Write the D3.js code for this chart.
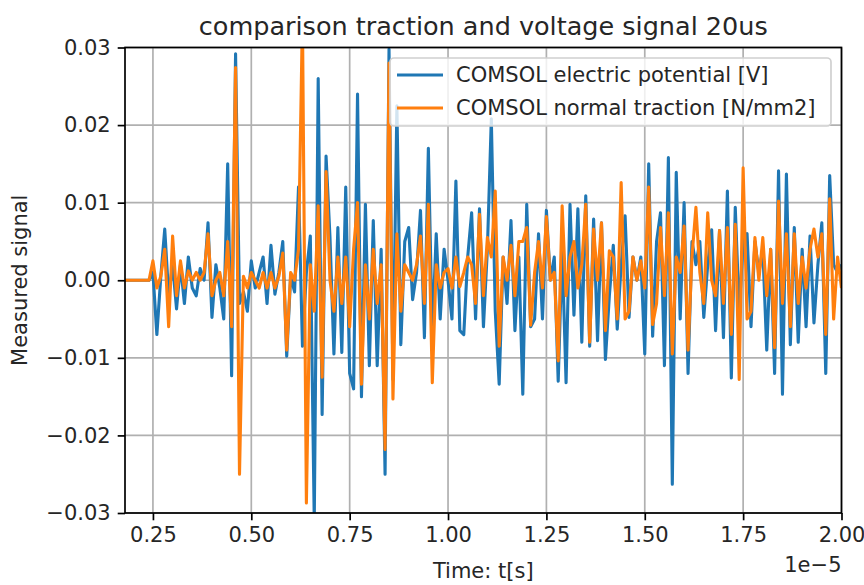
<!DOCTYPE html>
<html><head><meta charset="utf-8">
<script src="https://cdn.jsdelivr.net/npm/d3@7"></script>
<style>body{margin:0;background:#fff}svg{display:block}text{font-family:"DejaVu Sans",sans-serif;fill:#262626}</style>
</head><body><svg id="c" width="864" height="585"></svg>
<script>
// time in units of 1e-5 s; samples start at 0.25 with step 0.01
const sampleStart = 0.25, sampleStep = 0.01;
const leadTimes = [0.0, 0.24];
const leadValues = [0, 0];
const potential = [0.001,-0.007,0.0005,0.0066,-0.002,0.002,-0.0037,0.002,-0.003,0.003,-0.001,-0.002,0.0015,0.0,0.0074,-0.0048,0.002,-0.001,-0.005,0.015,-0.0123,0.0292,-0.003,-0.0015,-0.004,0.0025,-0.001,0.001,0.003,-0.003,0.0045,-0.0018,0.001,0.005,-0.0098,0.0005,-0.0015,0.012,-0.0085,0.001,0.0057,-0.031,0.026,-0.0173,0.016,0.0055,-0.0095,0.0068,-0.0093,0.012,-0.012,-0.014,0.024,-0.015,0.0098,-0.011,0.0077,-0.011,0.004,-0.025,0.0298,-0.0128,0.0225,-0.0083,0.005,0.0068,-0.0025,0.001,0.009,-0.0074,0.017,-0.007,0.006,-0.005,0.004,0.0,-0.005,0.0128,-0.0065,-0.007,0.003,0.0087,-0.005,0.0092,-0.006,0.004,0.0208,-0.004,-0.0134,0.003,-0.003,0.0077,-0.0065,0.003,-0.0147,0.0098,-0.006,-0.005,0.006,-0.005,0.009,0.0,0.003,-0.013,0.004,-0.0132,0.0098,-0.0045,0.0092,-0.008,0.0109,-0.0085,0.0079,-0.0078,0.0074,-0.0102,-0.002,0.0045,-0.0063,0.002,0.0083,-0.0048,0.003,0.0,0.003,-0.0095,0.015,-0.0072,0.005,0.0087,-0.011,0.0158,-0.0263,0.0139,-0.005,0.01,-0.012,0.005,0.002,0.005,-0.0048,0.002,0.0065,-0.0065,0.0064,-0.0074,0.0115,-0.0126,0.0094,-0.004,0.005,0.006,-0.006,0.005,0.001,0.004,-0.009,0.004,-0.012,0.0141,-0.0147,0.0137,-0.0083,0.0068,-0.008,0.004,-0.006,0.0057,-0.0055,0.002,0.0074,-0.012,0.0135,0.002,0.001,0.002];
const traction = [0.0025,-0.001,0.0005,0.004,-0.006,0.0057,-0.002,0.0025,-0.001,0.0012,0.0,0.001,0.0,0.001,0.006,-0.002,0.0,0.001,-0.002,0.005,-0.006,0.0274,-0.025,0.0005,-0.001,0.001,0.0,-0.001,0.001,-0.001,0.001,-0.001,0.0005,0.0035,-0.009,0.001,0.0,0.004,0.034,-0.0287,0.002,-0.004,0.0096,-0.0125,0.014,0.0,-0.004,0.003,-0.003,0.003,-0.006,0.004,0.01,-0.0134,0.002,-0.005,0.004,-0.003,0.002,-0.0218,0.028,-0.0153,0.006,-0.004,0.002,0.001,0.0,0.002,0.0057,-0.003,0.0098,-0.0132,0.002,-0.001,0.001,0.0015,-0.001,0.003,-0.0008,0.001,0.003,0.002,-0.003,0.0085,-0.002,0.0055,0.003,0.0115,-0.0085,0.003,0.0,0.0045,-0.002,0.005,0.005,0.0068,-0.0058,0.001,0.005,-0.001,0.0082,0.0,0.001,-0.0104,0.0096,-0.002,0.003,0.005,-0.001,0.002,0.0098,-0.008,0.0066,0.0,0.0074,-0.0065,0.0038,0.003,-0.005,0.0126,-0.005,-0.004,0.003,0.0,0.0025,-0.001,0.012,-0.0057,-0.003,0.0068,-0.002,0.0087,-0.0095,0.003,0.001,0.007,-0.009,0.003,0.0094,0.001,-0.003,0.0087,0.0,-0.002,0.0064,-0.003,0.0068,-0.007,0.0072,-0.0128,0.0145,-0.005,-0.004,0.0055,0.0,0.0055,-0.002,0.004,-0.0087,0.0102,-0.003,0.006,-0.006,0.006,-0.003,0.003,-0.001,0.004,0.0066,0.003,0.006,-0.007,0.0105,-0.005,0.003,-0.001];
const xTicks = [0.25,0.50,0.75,1.00,1.25,1.50,1.75,2.00];
const yTicks = [-0.03,-0.02,-0.01,0.00,0.01,0.02,0.03];
const seriesNames = ["COMSOL electric potential [V]","COMSOL normal traction [N/mm2]"];
const colors = ["#1f77b4","#ff7f0e"];

const L=125, R=841.5, T=47.5, B=513;
const FS=21, TFS=25.5;
const svg=d3.select("#c");
const x=d3.scaleLinear().domain([0.179,2.0]).range([L,R]);
const y=d3.scaleLinear().domain([-0.03,0.03]).range([B,T]);

function build(vals){
  const pts = leadTimes.map((t,i)=>[t,leadValues[i]]);
  vals.forEach((v,i)=>pts.push([sampleStart+i*sampleStep, v]));
  return pts;
}
// grid
svg.append("g").selectAll("line").data(xTicks).join("line")
  .attr("x1",d=>x(d)).attr("x2",d=>x(d)).attr("y1",T).attr("y2",B)
  .attr("stroke","#b0b0b0").attr("stroke-width",1.7);
svg.append("g").selectAll("line").data(yTicks).join("line")
  .attr("y1",d=>y(d)).attr("y2",d=>y(d)).attr("x1",L).attr("x2",R)
  .attr("stroke","#b0b0b0").attr("stroke-width",1.7);

svg.append("clipPath").attr("id","clip").append("rect").attr("x",L).attr("y",T).attr("width",R-L).attr("height",B-T);
const line=d3.line().x(d=>x(d[0])).y(d=>y(d[1]));
const gl=svg.append("g").attr("clip-path","url(#clip)");
[potential,traction].forEach((s,i)=>{
  gl.append("path").attr("d",line(build(s))).attr("fill","none")
    .attr("stroke",colors[i]).attr("stroke-width",3.1).attr("stroke-linejoin","round");
});

// axes
const fmt=d3.format(".2f");
const xa=svg.append("g").attr("transform",`translate(0,${B})`)
  .call(d3.axisBottom(x).tickValues(xTicks).tickFormat(fmt).tickSizeOuter(0).tickSize(7.3).tickPadding(7));
const ya=svg.append("g").attr("transform",`translate(${L},0)`)
  .call(d3.axisLeft(y).tickValues(yTicks).tickFormat(fmt).tickSizeOuter(0).tickSize(7.3).tickPadding(7));
[xa,ya].forEach(a=>{a.select(".domain").remove();a.selectAll("line").attr("stroke","#000").attr("stroke-width",1.7);
  a.selectAll("text").attr("font-size",FS).attr("font-family","DejaVu Sans").attr("fill","#262626");});
// spines
svg.append("rect").attr("x",L).attr("y",T).attr("width",R-L).attr("height",B-T)
  .attr("fill","none").attr("stroke","#000").attr("stroke-width",1.7);

// legend
const lg=svg.append("g");
lg.append("rect").attr("x",390).attr("y",58).attr("width",441).attr("height",68).attr("rx",4)
  .attr("fill","rgba(255,255,255,0.8)").attr("stroke","#d0d0d0").attr("stroke-width",1.7);
seriesNames.forEach((n,i)=>{
  const yy=75+i*33;
  lg.append("line").attr("x1",397).attr("x2",443).attr("y1",yy).attr("y2",yy).attr("stroke",colors[i]).attr("stroke-width",3.1);
  lg.append("text").attr("x",456).attr("y",yy).attr("dy","0.35em").attr("font-size",FS).text(n);
});

// titles
svg.append("text").attr("x",(L+R)/2).attr("y",35).attr("text-anchor","middle").attr("font-size",TFS).text("comparison traction and voltage signal 20us");
svg.append("text").attr("x",(L+R)/2).attr("y",578).attr("text-anchor","middle").attr("font-size",FS).text("Time: t[s]");
svg.append("text").attr("transform",`translate(27,${(T+B)/2}) rotate(-90)`).attr("text-anchor","middle").attr("font-size",FS).text("Measured signal");
svg.append("text").attr("x",R).attr("y",572).attr("text-anchor","end").attr("font-size",FS).text("1e\u22125");
</script></body></html>
